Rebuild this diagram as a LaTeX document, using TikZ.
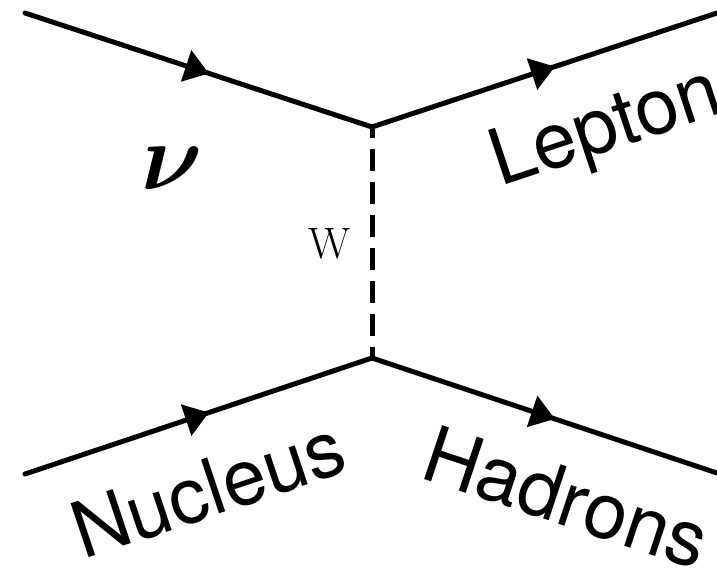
\documentclass[tikz,border=0pt]{standalone}
\usepackage{amsmath}
\usepackage{fontspec}
\setmainfont{TeX Gyre Heros}
\newfontfamily\lmfont{Latin Modern Roman}
\usetikzlibrary{arrows.meta,decorations.markings}
\tikzset{
  fermion/.style={line width=5pt,line cap=round,
    postaction={decorate},
    decoration={markings,
      mark=at position 0.53 with {\arrow{Triangle[length=24pt,width=32pt]}}}},
  boson/.style={line width=5pt,dash pattern=on 21.5pt off 11.5pt,dash phase=10.5pt},
  partlabel/.style={inner sep=0pt,anchor=base west,font=\fontsize{78}{90}\selectfont}
}
\begin{document}
\begin{tikzpicture}[x=1pt,y=1pt]
  \useasboundingbox (0,0) rectangle (717,570);
  % vertices and ends
  \coordinate (nuin) at (25,557);
  \coordinate (lepout) at (717,557);
  \coordinate (v1) at (372,443);
  \coordinate (v2) at (372,212);
  \coordinate (nucin) at (25,96);
  \coordinate (hadout) at (717,97);
  % lines
  \draw[fermion] (nuin) -- (v1);
  \draw[fermion] (v1) -- (lepout);
  \draw[fermion] (nucin) -- (v2);
  \draw[fermion] (v2) -- (hadout);
  \draw[boson] (v1) -- (v2);
  % labels
  \node (nu) at (172,402) {\scalebox{9.5}{$\boldsymbol{\nu}$}};
  \node (w) at (330,326) {\fontsize{44}{50}\selectfont\lmfont W};
  \node[partlabel,rotate=18.3] (lep) at (500,383) {Lepton};
  \node[partlabel,rotate=18.5] (nuc) at (83,10) {Nucleus};
  \node[partlabel,rotate=-18.4] (had) at (418,93) {Hadrons};
\end{tikzpicture}
\end{document}
